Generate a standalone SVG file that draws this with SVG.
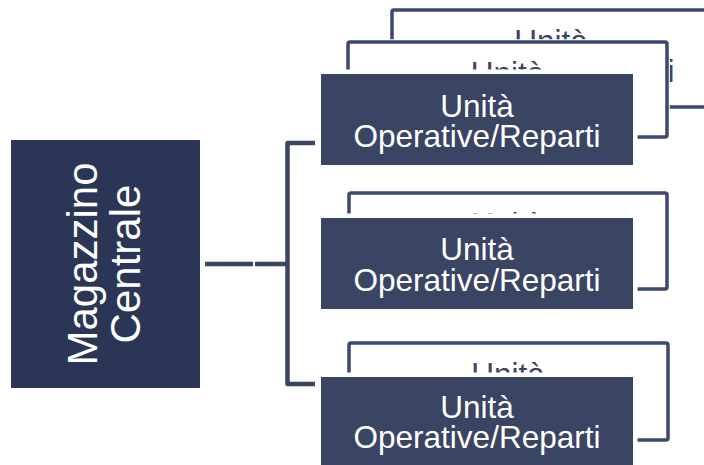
<svg xmlns="http://www.w3.org/2000/svg" width="704" height="465" viewBox="0 0 704 465">
<style>
.bg{fill:#ffffff}
.main{fill:#2B3657}
.front{fill:#3A4463;stroke:#ffffff;stroke-width:9;paint-order:stroke}
.back{fill:#ffffff;stroke:#3C4870;stroke-width:3.5}
.halo{fill:none;stroke:#ffffff;stroke-width:2.5}
.wt{fill:#ffffff;font-family:"Liberation Sans",Arial,sans-serif;font-size:31.5px;text-anchor:middle}
.bt{fill:#3A4463;font-family:"Liberation Sans",Arial,sans-serif;font-size:31.5px;text-anchor:middle}
.mt{fill:#ffffff;font-family:"Liberation Sans",Arial,sans-serif;font-size:42px;text-anchor:middle}
.conn{fill:none;stroke:#3A4463;stroke-width:4.5;stroke-linejoin:round}
</style>
<rect class="bg" x="0" y="0" width="704" height="465"/>

<g id="magazzino">
<rect class="main" x="11" y="140" width="189" height="248"/>
<text class="mt" transform="translate(97,264) rotate(-90)">Magazzino</text>
<text class="mt" transform="translate(140,264) rotate(-90)">Centrale</text>
</g>

<g id="connectors">
<path class="conn" d="M205,264 H253"/>
<path class="conn" d="M255,264 H288"/>
<path class="conn" d="M315,143 H287.5 V384 H315"/>
</g>

<g id="unita1-back2">
<rect class="back" x="392" y="10" width="320" height="97" rx="2"/>
<text class="bt" x="551" y="52">Unità</text>
<text class="bt" x="551" y="82">Operative/Reparti</text>
</g>
<g id="unita1-back1">
<rect class="halo" x="346.5" y="40.5" width="322" height="98" rx="3"/>
<rect class="back" x="348" y="42" width="319" height="95" rx="2"/>
<text class="bt" x="507.5" y="84">Unità</text>
<text class="bt" x="507.5" y="114">Operative/Reparti</text>
</g>
<g id="unita1">
<rect class="front" x="321" y="74" width="312" height="91"/>
<text class="wt" x="477" y="117">Unità</text>
<text class="wt" x="477" y="147">Operative/Reparti</text>
</g>

<g id="unita2-back">
<rect class="back" x="349" y="193" width="318" height="96" rx="2"/>
<text class="bt" x="508" y="235">Unità</text>
<text class="bt" x="508" y="265">Operative/Reparti</text>
</g>
<g id="unita2">
<rect class="front" x="321" y="218" width="312" height="91"/>
<text class="wt" x="477" y="260">Unità</text>
<text class="wt" x="477" y="291">Operative/Reparti</text>
</g>

<g id="unita3-back">
<rect class="back" x="349" y="343" width="319" height="97" rx="2"/>
<text class="bt" x="508" y="385">Unità</text>
<text class="bt" x="508" y="415">Operative/Reparti</text>
</g>
<g id="unita3">
<rect class="front" x="321" y="377" width="312" height="91"/>
<text class="wt" x="477" y="418">Unità</text>
<text class="wt" x="477" y="448">Operative/Reparti</text>
</g>
</svg>
